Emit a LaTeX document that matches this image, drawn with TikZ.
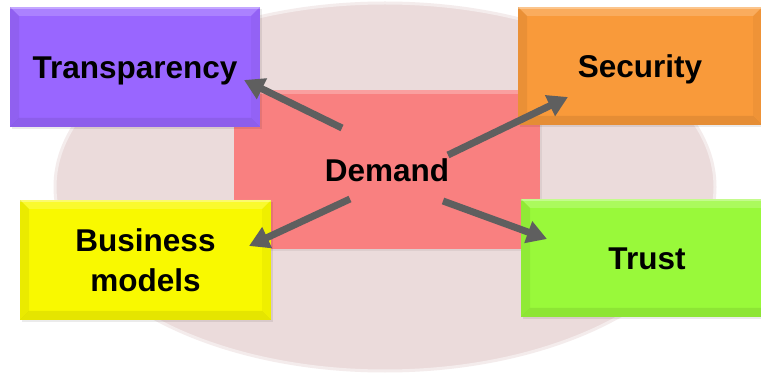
\documentclass[tikz,border=0pt]{standalone}
\usepackage{fontspec}
\setmainfont{Liberation Sans}
\usetikzlibrary{arrows.meta}
\definecolor{ellcol}{HTML}{EBDBDB}
\definecolor{ellrim}{HTML}{F4ECEC}
\definecolor{demcol}{HTML}{F98080}
\definecolor{purcol}{HTML}{9966FF}
\definecolor{orgcol}{HTML}{F99A3A}
\definecolor{yelcol}{HTML}{F9F900}
\definecolor{grncol}{HTML}{99F93A}
\definecolor{arrcol}{HTML}{5F5F5F}
\tikzset{
  lbl/.style={font=\fontsize{31.5}{40}\selectfont\bfseries, text=black},
  bevelbox/.style={lbl, draw=none, fill=#1, inner sep=0pt, align=center,
    path picture={
      \def\bb{path picture bounding box}
      \fill[white,opacity=.18] (\bb.north west) -- (\bb.north east) -- ([xshift=-9pt,yshift=-9pt]\bb.north east) -- ([xshift=9pt,yshift=-9pt]\bb.north west) -- cycle;
      \fill[white,opacity=.3] (\bb.north west) rectangle ([yshift=-2pt]\bb.north east);
      \fill[black,opacity=.08] (\bb.south west) -- (\bb.south east) -- ([xshift=-9pt,yshift=9pt]\bb.south east) -- ([xshift=9pt,yshift=9pt]\bb.south west) -- cycle;
      \fill[black,opacity=.06] (\bb.north west) -- (\bb.south west) -- ([xshift=9pt,yshift=9pt]\bb.south west) -- ([xshift=9pt,yshift=-9pt]\bb.north west) -- cycle;
      \fill[black,opacity=.04] (\bb.north east) -- (\bb.south east) -- ([xshift=-9pt,yshift=9pt]\bb.south east) -- ([xshift=-9pt,yshift=-9pt]\bb.north east) -- cycle;
    }},
  shadowbox/.style={fill=black, opacity=.08, draw=none},
  conn/.style={draw=arrcol, line width=7pt, -{Triangle[length=20pt,width=22pt]}, color=arrcol},
}
\begin{document}
\begin{tikzpicture}[x=1pt,y=-1pt]
\useasboundingbox (0,0) rectangle (761,374);
\fill[white] (0,0) rectangle (761,374);
% background ellipse
\fill[ellcol, draw=ellrim, line width=3pt] (385,187) ellipse [x radius=330, y radius=184];
% demand box
\fill[black,opacity=.06] (236,92) rectangle (542,251);
\node[lbl, fill=demcol, minimum width=306pt, minimum height=159pt, inner sep=0pt, text height=24pt, text depth=0pt] (dem) at (387,169.5) {Demand};
\fill[white,opacity=.25] (dem.north west) rectangle ([yshift=-4pt]dem.north east);
% shadows
\fill[shadowbox] (12,9) rectangle (262,129);
\fill[shadowbox] (520,9) rectangle (776,127);
\fill[shadowbox] (22,202) rectangle (273,322);
\fill[shadowbox] (523,201) rectangle (776,319);
% outer boxes
\node[bevelbox=purcol, minimum width=250pt, minimum height=120pt, text height=24pt, text depth=0pt] (tra) at (135,67) {Transparency};
\node[bevelbox=orgcol, minimum width=244pt, minimum height=118pt, text height=24pt, text depth=0pt] (sec) at (640,66) {Security};
\node[bevelbox=yelcol, minimum width=251pt, minimum height=120pt] (bus) at (145.5,260) {Business\\models};
\node[bevelbox=grncol, minimum width=252pt, minimum height=118pt, text height=24pt, text depth=0pt] (tru) at (647,258) {Trust};
% arrow end points
\coordinate (a1s) at (342,128); \coordinate (a1e) at (244,80);
\coordinate (a2s) at (448,155); \coordinate (a2e) at (568,97);
\coordinate (a3s) at (350,199); \coordinate (a3e) at (249,246);
\coordinate (a4s) at (443,201); \coordinate (a4e) at (547,239);
\draw[conn] (a1s) -- (a1e);
\draw[conn] (a2s) -- (a2e);
\draw[conn] (a3s) -- (a3e);
\draw[conn] (a4s) -- (a4e);
\end{tikzpicture}
\end{document}
